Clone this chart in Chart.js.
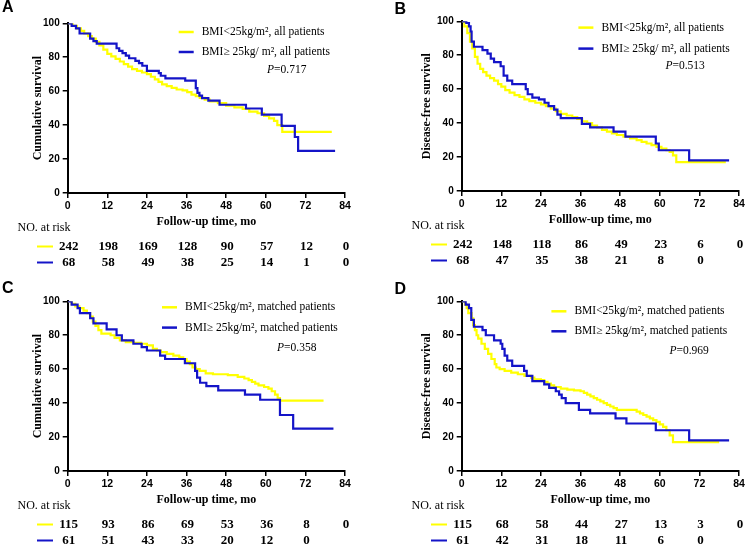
<!DOCTYPE html>
<html>
<head>
<meta charset="utf-8">
<script src="https://cdn.jsdelivr.net/npm/chart.js@4.4.0/dist/chart.umd.min.js"></script>
<style>
  html, body { margin: 0; padding: 0; background: #fff; }
  body { width: 745px; height: 547px; position: relative; overflow: hidden; }
  .panel { position: absolute; width: 372px; height: 278px; }
  .panel canvas { display: block; }
</style>
</head>
<body>
<div class="panel" style="left:0;top:0"><canvas id="chartA" width="372" height="278"></canvas></div>
<div class="panel" style="left:394px;top:-2px"><canvas id="chartB" width="372" height="278"></canvas></div>
<div class="panel" style="left:0;top:278px"><canvas id="chartC" width="372" height="278"></canvas></div>
<div class="panel" style="left:394px;top:278px"><canvas id="chartD" width="372" height="278"></canvas></div>
<script>
// months shown in the number-at-risk rows
const riskMonths = [0, 12, 24, 36, 48, 60, 72, 84];

// A: overall survival, all patients
const aLowT = [0, 1.5, 2.8, 4, 5, 6.2, 7.3, 8.5, 9.6, 10.8, 12, 13.2, 14.5, 15.8, 17, 18.3, 19.5, 21, 22.5, 24, 25.2, 26.4, 27.5, 28.6, 30, 31.5, 33, 34.8, 36.2, 37.5, 38.8, 40, 41.5, 43, 45.5, 48, 50.5, 53, 55, 57.5, 59.5, 61, 62.5, 63.5, 65, 80];
const aLowS = [100, 98.5, 97, 95.5, 94, 92.5, 91, 89, 87, 84.5, 82, 80.5, 79, 77.5, 76, 74.5, 73, 72, 71, 70, 68.5, 67, 65.5, 64, 63, 62, 61, 60.5, 59.5, 58, 57, 56, 55, 54, 53, 51.5, 50.5, 49.5, 48, 47, 45.5, 44, 42.5, 40, 36, 36];
const aHighT = [0, 1.2, 2.5, 3.6, 6.8, 7.8, 8.8, 14.8, 15.6, 16.6, 17.6, 18.6, 20.5, 21.6, 22.6, 24, 27.6, 28.2, 29.6, 35.6, 38.8, 39.3, 39.9, 40.7, 42.6, 46, 54, 58.8, 64.8, 68.8, 69.8, 81];
const aHighS = [100, 98.5, 97, 94, 91, 89.5, 88, 85.3, 83.8, 82.4, 80.9, 79.4, 77.9, 76.5, 75, 72, 70.6, 69.1, 67.6, 66.2, 61.8, 59, 57.4, 55.9, 54.4, 52, 49.8, 46.2, 39.6, 33, 24.8, 24.8];
const aRiskLow = [242, 198, 169, 128, 90, 57, 12, 0];
const aRiskHigh = [68, 58, 49, 38, 25, 14, 1, 0];

// B: disease-free survival, all patients
const bLowT = [0, 0.8, 1.7, 2.5, 3.2, 4, 4.8, 5.6, 6.5, 7.5, 8.6, 9.8, 11, 12, 13.2, 14.5, 16, 17.5, 19, 20.5, 22.3, 24, 25.5, 27, 28.5, 30, 31.8, 33.5, 35, 36.5, 38, 39.5, 41, 42.5, 44, 45.5, 47, 49, 51, 53, 54.5, 56, 57.5, 59, 60.5, 62, 63, 64, 65, 80];
const bLowS = [100, 97, 93, 88, 84, 79, 75, 72, 70, 68, 66.5, 65, 63, 61.5, 59.5, 58, 56.5, 55.5, 54, 53, 52, 51, 50, 48.5, 47, 45.5, 44.5, 43.5, 42.5, 41, 40, 38.5, 37.5, 36, 35, 34, 33, 32, 31, 30, 29, 28, 27, 26, 25, 24, 23, 21, 17, 17];
const bHighT = [0, 1.4, 2.2, 2.7, 3, 3.7, 6.3, 7.8, 8.8, 9.8, 11.8, 12.7, 13.8, 15.3, 19.4, 20, 21.4, 23.4, 25.1, 26.3, 28, 29, 30, 36.4, 38.9, 46, 49.6, 58.8, 59.7, 68.9, 81];
const bHighS = [100, 99, 97, 94, 88, 85, 83, 81, 78, 76, 73.5, 68, 65, 63, 60, 57, 55, 54, 52, 50, 48, 45, 43, 39.5, 37.5, 35, 32, 28, 24, 18, 18];
const bRiskLow = [242, 148, 118, 86, 49, 23, 6, 0];
const bRiskHigh = [68, 47, 35, 38, 21, 8, 0];

// C: overall survival, matched patients
const cLowT = [0, 1.2, 2.3, 3.5, 4.8, 5.8, 6.8, 7.6, 8.4, 9.3, 10.2, 13, 14.2, 15.8, 17.6, 20, 22.2, 24, 25.8, 27, 28.2, 30, 32, 33.8, 35, 36, 37, 37.8, 38.8, 40, 41.8, 44, 48.5, 51.5, 53.5, 54.8, 55.8, 56.8, 57.8, 59.5, 60.8, 61.8, 62.8, 63.6, 64.3, 77.5];
const cLowS = [100, 98.5, 97, 96, 94.5, 93, 91, 88, 85.5, 83, 81, 80, 78.5, 77, 76, 75.5, 75, 74, 72, 71, 70, 69, 68, 67, 66, 64.5, 63, 61, 60, 59, 57.5, 57, 56.5, 55.5, 54.5, 53.5, 52.5, 51.5, 50.5, 49.5, 48.5, 47, 45, 43, 41.5, 41.5];
const cHighT = [0, 1.2, 3, 3.7, 6.8, 7.8, 11.8, 14.8, 16.4, 19.9, 22.4, 24, 28, 29.5, 35.5, 38.6, 39.2, 40.1, 42, 45.6, 53.7, 58.3, 64.3, 68.3, 80.5];
const cHighS = [100, 98, 96, 93, 90, 87, 83.5, 80, 77, 75, 73, 71, 68, 66, 63.5, 59, 55, 52, 50, 47.5, 45, 42, 33, 25, 25];
const cRiskLow = [115, 93, 86, 69, 53, 36, 8, 0];
const cRiskHigh = [61, 51, 43, 33, 20, 12, 0];

// D: disease-free survival, matched patients
const dLowT = [0, 1, 1.5, 2, 3, 3.5, 4, 4.5, 5, 6, 7, 8, 9, 10, 10.5, 11.5, 13, 15, 17, 19, 21, 22, 24, 25, 26, 27, 28, 30, 32, 34, 36, 37, 38, 39, 40, 41, 42, 43, 44, 45, 46, 47, 53, 54, 55, 56, 57, 58, 59, 60, 61, 62, 63, 64, 78];
const dLowS = [100, 98, 96, 93, 90, 86, 83, 80, 78, 75, 72, 69, 66, 63, 61, 60, 59, 58, 57, 56, 55, 54, 53.5, 52.5, 51.5, 50.5, 49.5, 48.5, 48, 47.5, 47, 46, 45, 44, 43, 42, 41, 40, 39, 38, 37, 36, 35, 34, 33, 32, 31, 30, 29, 27.5, 26, 24, 21, 17, 17];
const dHighT = [0, 1.2, 2.2, 2.9, 3.7, 6.3, 7.3, 9.8, 11.8, 12.3, 13, 13.8, 15.3, 18.9, 19.7, 21.4, 25, 26.5, 28.5, 29.5, 30.3, 31.5, 35.5, 38.9, 46.6, 49.9, 58.8, 68.9, 81];
const dHighS = [100, 98, 96, 89, 85, 83, 80, 77, 75, 72, 68, 65, 62, 59, 56, 53, 51, 49, 47, 45, 43, 40, 36, 34, 31, 28, 24, 18, 18];
const dRiskLow = [115, 68, 58, 44, 27, 13, 3, 0];
const dRiskHigh = [61, 42, 31, 18, 11, 6, 0];

const YELLOW = '#ffff00';
const BLUE = '#1414c8';
const serif = '"Liberation Serif", "Times New Roman", serif';
const sans = '"Liberation Sans", Arial, sans-serif';

Chart.defaults.color = '#000';
Chart.defaults.font.family = sans;

const toPoints = (t, s) => t.map((x, i) => ({ x: x, y: s[i] }));

// panel letter, in-plot legend with P value, and the number-at-risk table
const annotate = {
  id: 'annotate',
  afterDraw(chart, args, o) {
    const { ctx, chartArea: a, scales: { x } } = chart;
    const colors = [YELLOW, BLUE];
    ctx.save();
    ctx.fillStyle = '#000';
    ctx.textBaseline = 'middle';
    ctx.textAlign = 'left';
    ctx.font = 'bold 16px ' + sans;
    ctx.fillText(o.letter, o.letterX, o.letterY);

    ctx.font = '11.5px ' + serif;
    chart.data.datasets.forEach((ds, i) => {
      const y = a.top + o.legendY[i];
      const tx = a.left + o.legendX;
      ctx.strokeStyle = colors[i];
      ctx.lineWidth = 2.5;
      ctx.beginPath();
      ctx.moveTo(tx - 23, y);
      ctx.lineTo(tx - 8, y);
      ctx.stroke();
      ctx.fillText(ds.label, tx, y);
    });
    ctx.font = 'italic 11.5px ' + serif;
    const px = a.left + o.pX, py = a.top + o.pY;
    ctx.fillText('P', px, py);
    const pw = ctx.measureText('P').width;
    ctx.font = '11.5px ' + serif;
    ctx.fillText('=' + o.p, px + pw, py);

    ctx.font = '12px ' + serif;
    ctx.fillText('NO. at risk', 17.5, a.bottom + 35);
    o.risk.forEach((row, i) => {
      const y = a.bottom + 53.5 + i * 16;
      ctx.strokeStyle = colors[i];
      ctx.lineWidth = 2;
      ctx.beginPath();
      ctx.moveTo(37, y);
      ctx.lineTo(53, y);
      ctx.stroke();
      ctx.font = 'bold 13px ' + serif;
      ctx.textAlign = 'center';
      row.forEach((n, j) => ctx.fillText(String(n), x.getPixelForValue(riskMonths[j]) + 1, y));
      ctx.textAlign = 'left';
    });
    ctx.restore();
  }
};

function makeChart(id, p) {
  new Chart(document.getElementById(id), {
    type: 'line',
    data: {
      datasets: [
        { label: p.lowLabel, data: toPoints(p.lowT, p.lowS), borderColor: YELLOW, order: 1 },
        { label: p.highLabel, data: toPoints(p.highT, p.highS), borderColor: BLUE, order: 0 }
      ]
    },
    options: {
      responsive: false,
      animation: false,
      layout: { padding: { left: p.padLeft, top: 23.3, right: 27, bottom: 48.5 } },
      elements: {
        line: { stepped: true, borderWidth: 2.2, fill: false, tension: 0 },
        point: { radius: 0 }
      },
      plugins: {
        legend: { display: false },
        tooltip: { enabled: false },
        annotate: {
          letter: p.letter, letterX: p.letterX, letterY: p.letterY,
          legendX: p.legendX, legendY: p.legendY, pX: p.pX, pY: p.pY, p: p.p,
          risk: [p.riskLow, p.riskHigh]
        }
      },
      scales: {
        x: {
          type: 'linear', min: 0, max: 84,
          ticks: { stepSize: 12, autoSkip: false, maxRotation: 0, padding: 2,
                   font: { family: sans, weight: 'bold', size: 10.5 }, color: '#000' },
          grid: { drawOnChartArea: false, tickLength: 5, color: '#000', lineWidth: 1.5 },
          border: { color: '#000', width: 2 },
          title: { display: true, text: p.xTitle, color: '#000', padding: { top: 0, bottom: 0 },
                   font: { family: serif, weight: 'bold', size: 12 } },
          afterFit: s => { s.height = 36.5; }
        },
        y: {
          min: 0, max: 100,
          ticks: { stepSize: 20, padding: 3, font: { family: sans, weight: 'bold', size: 10 }, color: '#000' },
          grid: { drawOnChartArea: false, tickLength: 5, color: '#000', lineWidth: 1.5 },
          border: { color: '#000', width: 2 },
          title: { display: true, text: p.yTitle, color: '#000', padding: { top: 3, bottom: 0 },
                   font: { family: serif, weight: 'bold', size: 12 } },
          afterFit: s => { s.width = p.yWidth; }
        }
      }
    },
    plugins: [annotate]
  });
}

makeChart('chartA', {
  letter: 'A', letterX: 2, letterY: 7.5,
  lowT: aLowT, lowS: aLowS, highT: aHighT, highS: aHighS,
  lowLabel: 'BMI<25kg/m\u00b2, all patients', highLabel: 'BMI\u2265 25kg/ m\u00b2, all patients',
  p: '0.717', riskLow: aRiskLow, riskHigh: aRiskHigh,
  xTitle: 'Follow-up time, mo', yTitle: 'Cumulative survival',
  padLeft: 28, yWidth: 39.7,
  legendX: 134, legendY: [8.7, 28.7], pX: 199.3, pY: 46.7
});
makeChart('chartB', {
  letter: 'B', letterX: 0.5, letterY: 11.2,
  lowT: bLowT, lowS: bLowS, highT: bHighT, highS: bHighS,
  lowLabel: 'BMI<25kg/m\u00b2, all patients', highLabel: 'BMI\u2265 25kg/ m\u00b2, all patients',
  p: '0.513', riskLow: bRiskLow, riskHigh: bRiskHigh,
  xTitle: 'Folllow-up time, mo', yTitle: 'Disease-free survival',
  padLeft: 23, yWidth: 44.7,
  legendX: 139.7, legendY: [6.3, 27.3], pX: 203.7, pY: 44.3
});
makeChart('chartC', {
  letter: 'C', letterX: 2, letterY: 10.3,
  lowT: cLowT, lowS: cLowS, highT: cHighT, highS: cHighS,
  lowLabel: 'BMI<25kg/m\u00b2, matched patients', highLabel: 'BMI\u2265 25kg/m\u00b2, matched patients',
  p: '0.358', riskLow: cRiskLow, riskHigh: cRiskHigh,
  xTitle: 'Follow-up time, mo', yTitle: 'Cumulative survival',
  padLeft: 28, yWidth: 39.7,
  legendX: 117.3, legendY: [6, 26.3], pX: 209.3, pY: 46.3
});
makeChart('chartD', {
  letter: 'D', letterX: 0.5, letterY: 11.7,
  lowT: dLowT, lowS: dLowS, highT: dHighT, highS: dHighS,
  lowLabel: 'BMI<25kg/m\u00b2, matched patients', highLabel: 'BMI\u2265 25kg/m\u00b2, matched patients',
  p: '0.969', riskLow: dRiskLow, riskHigh: dRiskHigh,
  xTitle: 'Follow-up time, mo', yTitle: 'Disease-free survival',
  padLeft: 23, yWidth: 44.7,
  legendX: 112.7, legendY: [10, 30], pX: 207.7, pY: 49.3
});
</script>
</body>
</html>
